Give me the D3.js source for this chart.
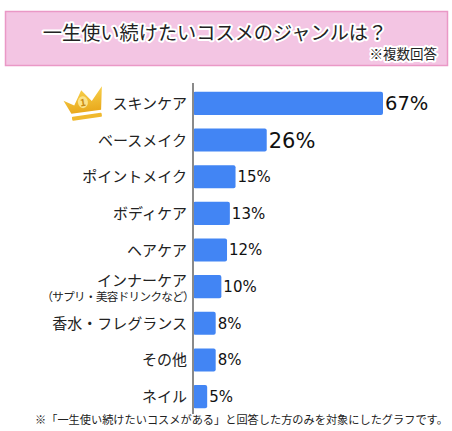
<!DOCTYPE html>
<html>
<head>
<meta charset="utf-8">
<script src="https://cdn.jsdelivr.net/npm/d3@7"></script>
<style>
  body { margin: 0; background: #fff; }
  svg { display: block; font-family: "Noto Sans CJK JP", "Noto Sans", sans-serif; }
</style>
</head>
<body>
<svg id="viz" width="452" height="431"></svg>
<script>
// chart data
const categories = ["スキンケア", "ベースメイク", "ポイントメイク", "ボディケア", "ヘアケア",
    "インナーケア", "香水・フレグランス", "その他", "ネイル"];
const subLabels = ["", "", "", "", "", "（サプリ・美容ドリンクなど）", "", "", ""];
const values = [67, 26, 15, 13, 12, 10, 8, 8, 5];
const valueLabels = ["67%", "26%", "15%", "13%", "12%", "10%", "8%", "8%", "5%"];

const title = "一生使い続けたいコスメのジャンルは？";
const note = "※複数回答";
const footnote = "※「一生使い続けたいコスメがある」と回答した方のみを対象にしたグラフです。";

const svg = d3.select("#viz");

// title box
svg.append("rect")
    .attr("x", 5.5).attr("y", 11.5)
    .attr("width", 442).attr("height", 54)
    .attr("fill", "#f3c5e3")
    .attr("stroke", "#ea98c6")
    .attr("stroke-width", 1.5);

[{ t: title, x: 215, y: 40, size: 19.2, anchor: "middle" },
 { t: note, x: 437, y: 59, size: 13.5, anchor: "end" }].forEach(d => {
    // white halo then dark text
    [true, false].forEach(halo => {
        svg.append("text")
            .attr("x", d.x).attr("y", d.y)
            .attr("text-anchor", d.anchor)
            .attr("font-size", d.size)
            .attr("fill", "#222")
            .attr("stroke", halo ? "#fff" : "none")
            .attr("stroke-width", halo ? 4 : 0)
            .attr("stroke-linejoin", "round")
            .text(d.t);
    });
});

// scales
const x0 = 193;
const xScale = d3.scaleLinear().domain([0, 67]).range([x0, 383]);
const yScale = d3.scaleBand()
    .domain(categories)
    .range([84.5, 415.5])
    .paddingInner(0.37)
    .paddingOuter(0.2);

const g = svg.append("g");

// bars
g.selectAll("rect.bar")
    .data(values)
    .join("rect")
    .attr("class", "bar")
    .attr("x", x0)
    .attr("y", (d, i) => yScale(categories[i]))
    .attr("width", d => xScale(d) - x0)
    .attr("height", yScale.bandwidth())
    .attr("rx", 2)
    .attr("fill", "#4285f4");

// axis line
g.append("line")
    .attr("x1", x0).attr("x2", x0)
    .attr("y1", 83).attr("y2", 414)
    .attr("stroke", "#8a8a8a")
    .attr("stroke-width", 2);

// category labels
categories.forEach((c, i) => {
    const cy = yScale(c) + yScale.bandwidth() / 2;
    const hasSub = subLabels[i] !== "";
    g.append("text")
        .attr("x", 187)
        .attr("y", hasSub ? cy - 1 : cy + 5.5)
        .attr("text-anchor", "end")
        .attr("font-size", 15)
        .attr("fill", "#222")
        .text(c);
    if (hasSub) {
        g.append("text")
            .attr("x", 194)
            .attr("y", cy + 14)
            .attr("text-anchor", "end")
            .attr("font-size", 11.5)
            .attr("letter-spacing", -0.6)
            .attr("fill", "#222")
            .text(subLabels[i]);
    }
});

// value labels
const labelSize = i => i === 0 ? 19.5 : i === 1 ? 21 : 15;
values.forEach((v, i) => {
    g.append("text")
        .attr("x", xScale(v) + 2)
        .attr("y", yScale(categories[i]) + yScale.bandwidth() / 2 + labelSize(i) * 0.36)
        .attr("font-family", "'DejaVu Sans', sans-serif")
        .attr("font-size", labelSize(i))
        .attr("fill", "#111")
        .text(valueLabels[i]);
});

// crown for first place
const defs = svg.append("defs");
const grad = defs.append("linearGradient").attr("id", "gold")
    .attr("x1", 0).attr("y1", 0).attr("x2", 0).attr("y2", 1);
grad.append("stop").attr("offset", "0%").attr("stop-color", "#f7cf4a");
grad.append("stop").attr("offset", "100%").attr("stop-color", "#e9a91c");

const crown = svg.append("g").attr("transform", "translate(64,87) rotate(-8,20,16)");
crown.append("path")
    .attr("d", "M0,11 L10,17 L19,3 L28,15 L40,2 L36,25 L6,25 Z")
    .attr("fill", "url(#gold)");
crown.append("rect")
    .attr("x", 6).attr("y", 28).attr("width", 30).attr("height", 4)
    .attr("rx", 1)
    .attr("fill", "#f0b92e");
crown.append("ellipse")
    .attr("cx", 19).attr("cy", 15).attr("rx", 5).attr("ry", 6)
    .attr("fill", "#fbe38a");
crown.append("text")
    .attr("x", 19).attr("y", 19)
    .attr("text-anchor", "middle")
    .attr("font-size", 10)
    .attr("font-weight", "bold")
    .attr("fill", "#c98b12")
    .text("1");

// footnote
svg.append("text")
    .attr("x", 35).attr("y", 424)
    .attr("font-size", 11.2)
    .attr("fill", "#222")
    .text(footnote);
</script>
</body>
</html>
